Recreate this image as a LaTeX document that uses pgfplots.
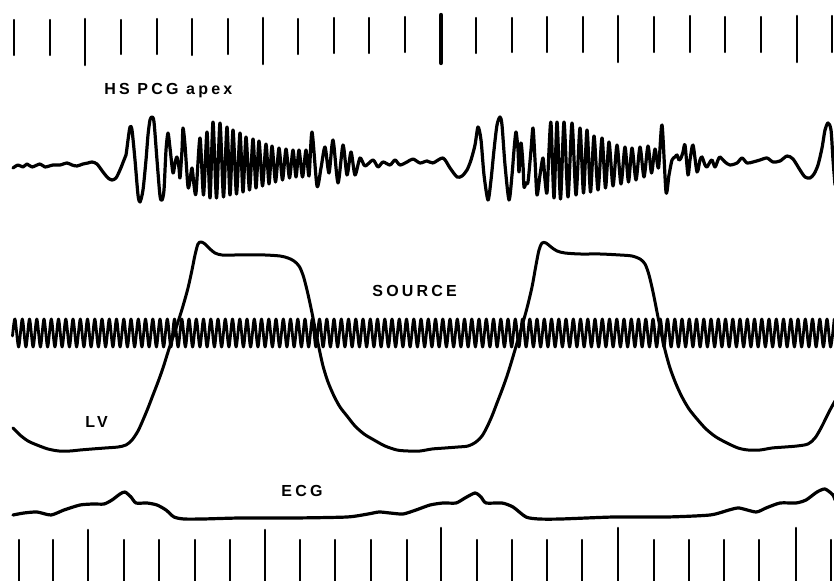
\documentclass[border=0pt]{standalone}
\usepackage{pgfplots}
\pgfplotsset{compat=1.18}
\usepackage{fontspec}
\newfontfamily\lab{Liberation Sans}[LetterSpace=20]
\newcommand{\lbl}{\lab\bfseries\fontsize{8}{9}\selectfont}
\begin{document}
\begin{tikzpicture}
\begin{axis}[
  width=417pt, height=290.5pt, scale only axis,
  xmin=0, xmax=834, ymin=0, ymax=581, y dir=reverse,
  hide axis, clip=true,
  axis background/.style={fill=white},
  unbounded coords=jump,
  every axis plot/.append style={black, line join=round, line cap=round},
]
\addplot[draw=none] coordinates {(0,0) (834,581)};
% top time marks
\addplot[line width=1.2pt] coordinates {
(14,20) (14,55) (14,nan) (50,20) (50,55) (50,nan) (121,20) (121,54) (121,nan)
(157,19) (157,54) (157,nan) (192,19) (192,55) (192,nan) (228,19) (228,54) (228,nan)
(298,19) (298,54) (298,nan) (334,18) (334,53) (334,nan) (369,18) (369,53) (369,nan)
(405,17) (405,52) (405,nan) (476,18) (476,53) (476,nan) (512,18) (512,52) (512,nan)
(547,17) (547,52) (547,nan) (583,17) (583,52) (583,nan) (654,17) (654,52) (654,nan)
(690,16) (690,52) (690,nan) (725,17) (725,52) (725,nan) (761,17) (761,52) (761,nan)
(832,16) (832,52)};
\addplot[line width=1.3pt] coordinates {
(85,19) (85,65) (85,nan) (263,18) (263,64) (263,nan) (618,16) (618,62) (618,nan)
(797,16) (797,62)};
\addplot[line width=2.2pt] coordinates {(441,15) (441,63)};
% bottom time marks
\addplot[line width=1.2pt] coordinates {
(19,540) (19,585) (19,nan) (53,540) (53,585) (53,nan) (124,540) (124,585) (124,nan)
(159,540) (159,585) (159,nan) (195,540) (195,585) (195,nan) (230,540) (230,585) (230,nan)
(300,540) (300,585) (300,nan) (335,540) (335,585) (335,nan) (371,540) (371,585) (371,nan)
(407,540) (407,585) (407,nan) (477,540) (477,585) (477,nan) (512,540) (512,585) (512,nan)
(547,540) (547,585) (547,nan) (582,540) (582,585) (582,nan) (654,540) (654,585) (654,nan)
(689,540) (689,585) (689,nan) (724,540) (724,585) (724,nan) (759,540) (759,585) (759,nan)
(831,540) (831,585)};
\addplot[line width=1.3pt] coordinates {
(88,530) (88,585) (88,nan) (265,530) (265,585) (265,nan) (441,528) (441,585) (441,nan)
(618,528) (618,585) (618,nan) (796,528) (796,585)};
% PCG
\addplot[line width=1.6pt, smooth, tension=0.45] coordinates {
(13,168) (18,165) (23,167) (27,164) (32,167) (40,164) (45,167) (53,165) (60,165) (67,163)
(72,165) (77,166) (83,164) (88,163) (92,162) (97,164) (103,172) (108,178) (112,180) (116,178)
(120,170) (124,160) (126,155) (128,140) (130,127) (132,130) (135,160) (138,195) (140,202)
(143,190) (146,160) (148,135) (150,120) (152,117) (154,122) (157,160) (160,196) (162,200)
(164,190) (166,150) (168,133) (170,148) (173,173) (175,163) (177,157) (179,168) (180,178)
(182,150) (183,128) (185,145) (188,187) (190,180) (192,168) (194,185) (196,193)
(200,138) (203.5,195) (207,132) (210,198) (213,122) (216.5,198) (220,123) (223.5,197)
(227,127) (230,195) (233,130) (236.5,194) (240,133) (243,192) (246,137) (249.5,190)
(253,139) (256,188) (259,141) (262.5,186) (266,144) (269,184) (272,146) (275.5,182)
(279,148) (282.5,180) (286,149) (289.5,178) (293,150) (296,177) (299,150) (302.5,177)
(306,150) (309,176) (312,132) (317,186) (321,168) (325,147) (329,173) (333,140) (338,183)
(343,145) (347,175) (351,152) (355,175) (360,158) (365,166) (373,160) (378,167) (383,162)
(390,165) (395,160) (400,165) (407,162) (413,159) (420,163) (427,161) (433,163) (443,158)
(450,168) (457,177) (462,176) (467,170) (471,160) (475,145) (478,127) (481,140) (484,175)
(488,200) (491,180) (494,150) (497,125) (500,117) (502,125) (505,165) (509,200) (512,175)
(514,150) (516,132) (518,150) (519,172) (521,143) (523,165) (524,187) (526,183) (528,182)
(531,150) (533,128) (535,160) (537,195) (540,175) (543,158) (545,180) (547,193) (549,150)
(551,123) (554,198) (557,122) (560.5,199) (564,122) (568,197) (572,123) (576,195) (580,128)
(583.5,193) (587,130) (590.5,192) (594,136) (598,190) (602,138) (605.5,188) (609,142)
(613,186) (617,145) (621,184) (625,147) (628.5,182) (632,148) (636,180) (640,147) (644,177)
(648,146) (651.5,173) (655,149) (658.5,168) (662,125) (666,192) (669,175) (672,160)
(675,157) (677,155) (679,160) (681,158) (683,152) (685,145) (688,175) (690,160) (693,145)
(697,172) (700,160) (702,157) (705,165) (707,167) (710,162) (712,160) (715,167) (718,160)
(720,157) (725,162) (730,165) (737,163) (742,158) (747,163) (753,162) (760,160) (767,158)
(773,162) (780,161) (787,156) (793,159) (800,170) (805,177) (810,178) (814,174) (818,165)
(822,148) (825,130) (828,123) (831,130) (833,160) (835,185)};
% SOURCE
\addplot[line width=1.4pt, smooth] coordinates {
(12.5,336)
(15,319) (18.6,347) (22.3,319) (25.9,347) (29.5,319) (33.1,347) (36.8,319) (40.4,347)
(44,319) (47.6,347) (51.3,319) (54.9,347) (58.5,319) (62.1,347) (65.8,319) (69.4,347)
(73,319) (76.6,347) (80.3,319) (83.9,347) (87.5,319) (91.1,347) (94.8,319) (98.4,347)
(102,319) (105.6,347) (109.3,319) (112.9,347) (116.5,319) (120.1,347) (123.8,319) (127.4,347)
(131,319) (134.6,347) (138.3,319) (141.9,347) (145.5,319) (149.1,347) (152.8,319) (156.4,347)
(160,319) (163.6,347) (167.3,319) (170.9,347) (174.5,319) (178.1,347) (181.8,319) (185.4,347)
(189,319) (192.6,347) (196.3,319) (199.9,347) (203.5,319) (207.1,347) (210.8,319) (214.4,347)
(218,319) (221.6,347) (225.3,319) (228.9,347) (232.5,319) (236.1,347) (239.8,319) (243.4,347)
(247,319) (250.6,347) (254.3,319) (257.9,347) (261.5,319) (265.1,347) (268.8,319) (272.4,347)
(276,319) (279.6,347) (283.3,319) (286.9,347) (290.5,319) (294.1,347) (297.8,319) (301.4,347)
(305,319) (308.6,347) (312.3,319) (315.9,347) (319.5,319) (323.1,347) (326.8,319) (330.4,347)
(334,319) (337.6,347) (341.3,319) (344.9,347) (348.5,319) (352.1,347) (355.8,319) (359.4,347)
(363,319) (366.6,347) (370.3,319) (373.9,347) (377.5,319) (381.1,347) (384.8,319) (388.4,347)
(392,319) (395.6,347) (399.3,319) (402.9,347) (406.5,319) (410.1,347) (413.8,319) (417.4,347)
(421,319) (424.6,347) (428.3,319) (431.9,347) (435.5,319) (439.1,347) (442.8,319) (446.4,347)
(450,319) (453.6,347) (457.3,319) (460.9,347) (464.5,319) (468.1,347) (471.8,319) (475.4,347)
(479,319) (482.6,347) (486.3,319) (489.9,347) (493.5,319) (497.1,347) (500.8,319) (504.4,347)
(508,319) (511.6,347) (515.3,319) (518.9,347) (522.5,319) (526.1,347) (529.8,319) (533.4,347)
(537,319) (540.6,347) (544.3,319) (547.9,347) (551.5,319) (555.1,347) (558.8,319) (562.4,347)
(566,319) (569.6,347) (573.3,319) (576.9,347) (580.5,319) (584.1,347) (587.8,319) (591.4,347)
(595,319) (598.6,347) (602.3,319) (605.9,347) (609.5,319) (613.1,347) (616.8,319) (620.4,347)
(624,319) (627.6,347) (631.3,319) (634.9,347) (638.5,319) (642.1,347) (645.8,319) (649.4,347)
(653,319) (656.6,347) (660.3,319) (663.9,347) (667.5,319) (671.1,347) (674.8,319) (678.4,347)
(682,319) (685.6,347) (689.3,319) (692.9,347) (696.5,319) (700.1,347) (703.8,319) (707.4,347)
(711,319) (714.6,347) (718.3,319) (721.9,347) (725.5,319) (729.1,347) (732.8,319) (736.4,347)
(740,319) (743.6,347) (747.3,319) (750.9,347) (754.5,319) (758.1,347) (761.8,319) (765.4,347)
(769,319) (772.6,347) (776.3,319) (779.9,347) (783.5,319) (787.1,347) (790.8,319) (794.4,347)
(798,319) (801.6,347) (805.3,319) (808.9,347) (812.5,319) (816.1,347) (819.8,319) (823.4,347)
(827,319) (830.6,347) (834.2,319)};
% LV
\addplot[line width=1.5pt, smooth] coordinates {
(13,428) (20,435) (28,441) (37,445) (48,449) (59,451) (70,451) (80,450) (92,449) (105,448)
(118,447) (126,445) (132,440) (138,431) (143,420) (148,408) (153,395) (158,382) (163,368)
(168,352) (173,337) (178,322) (183,306) (188,288) (192,270) (195,255) (198,244) (201,242)
(205,244) (210,249) (215,253) (222,255) (235,255) (250,255) (265,255) (280,256) (288,258)
(294,261) (299,266) (303,275) (307,290) (311,308) (315,328) (319,348) (323,366) (328,382)
(334,396) (340,407) (347,416) (355,426) (364,434) (374,440) (385,446) (397,450) (408,451)
(420,451) (432,449) (445,448) (458,447) (468,446) (476,442) (482,436) (487,427) (492,416)
(497,403) (502,390) (507,376) (512,360) (517,343) (522,326) (527,308) (532,287) (536,265)
(539,250) (542,243) (546,243) (551,247) (557,251) (565,253) (580,254) (600,254) (620,255)
(632,256) (640,259) (645,264) (649,275) (653,292) (657,312) (661,332) (665,350) (670,368)
(676,384) (682,397) (689,409) (697,419) (706,429) (716,437) (727,443) (738,448) (748,450)
(760,450) (772,448) (785,447) (797,446) (808,444) (815,438) (821,428) (826,418) (830,410)
(835,401)};
% ECG
\addplot[line width=1.6pt, smooth, tension=0.4] coordinates {
(13,515) (24,513) (37,512) (51,515) (64,510) (80,505) (93,504) (104,504) (112,500) (120,494)
(125,492) (131,497) (136,503) (147,503) (157,505) (166,510) (174,517) (184,519) (203,519)
(240,518) (294,518) (347,517) (368,514) (379,512) (390,513) (403,514) (416,510) (430,505)
(443,503) (456,503) (465,498) (475,493) (481,497) (486,503) (502,503) (513,507) (526,517)
(539,519) (561,519) (614,517) (667,517) (710,515) (729,510) (739,508) (756,512) (766,508)
(780,503) (796,503) (806,500) (817,492) (825,489) (833,495) (835,500)};
% labels
\node[anchor=base west, inner sep=0pt] at (axis cs:104,95) {\lbl HS PCG apex};
\node[anchor=base west, inner sep=0pt] at (axis cs:372,297) {\lbl SOURCE};
\node[anchor=base west, inner sep=0pt] at (axis cs:85,428) {\lbl LV};
\node[anchor=base west, inner sep=0pt] at (axis cs:281,497) {\lbl ECG};
\end{axis}
\end{tikzpicture}
\end{document}
